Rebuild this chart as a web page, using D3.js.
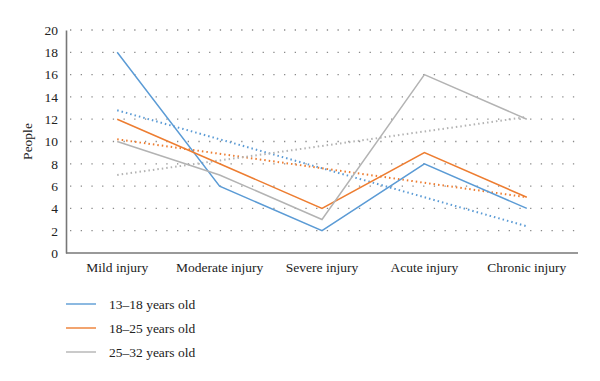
<!DOCTYPE html>
<head>
<meta charset="utf-8">
<script src="https://d3js.org/d3.v7.min.js"></script>
<style>
  body { margin: 0; background: #fff; }
</style>
</head>
<body>
<svg id="chart" width="600" height="381"></svg>
<script>
// chart values
const categories = ['Mild injury', 'Moderate injury', 'Severe injury', 'Acute injury', 'Chronic injury'];
const seriesNames = ['13\u201318 years old', '18\u201325 years old', '25\u201332 years old'];
const teen = [18, 6, 2, 8, 4];
const young = [12, 8, 4, 9, 5];
const adult = [10, 7, 3, 16, 12];
// dotted trend lines, start and end values
const teenTrend = [12.8, 2.4];
const youngTrend = [10.2, 5.0];
const adultTrend = [7.0, 12.2];
const yTicks = [0, 2, 4, 6, 8, 10, 12, 14, 16, 18, 20];

const colors = ['#5b9bd5', '#ed7d31', '#b3b3b3'];
const series = [teen, young, adult];
const trends = [teenTrend, youngTrend, adultTrend];
const font = 'Liberation Serif';

const svg = d3.select('#chart');
const mLeft = 66, mRight = 578, mTop = 30, mBottom = 253;

const x = d3.scaleBand().domain(categories).range([mLeft, mRight]);
const y = d3.scaleLinear().domain([0, 20]).range([mBottom, mTop]);
const cx = d => x(d) + x.bandwidth() / 2;

// dotted gridlines
svg.append('g')
  .selectAll('line')
  .data(yTicks.filter(t => t > 0))
  .enter()
  .append('line')
    .attr('x1', mLeft + 4)
    .attr('x2', mRight)
    .attr('y1', d => y(d))
    .attr('y2', d => y(d))
    .style('stroke', '#8a8a8a')
    .style('stroke-width', 1.3)
    .style('stroke-dasharray', '1.3,9.4');

// axes
let ya = svg.append('g')
  .attr('transform', `translate(${mLeft},0)`)
  .call(d3.axisLeft(y).tickValues(yTicks).tickSize(0).tickPadding(8))
  .attr('font-family', font)
  .attr('font-size', 13.5);
ya.select('.domain').style('stroke', '#777').style('stroke-width', 1.6);
ya.selectAll('text').attr('fill', '#222');

let xa = svg.append('g')
  .attr('transform', `translate(0,${mBottom})`)
  .call(d3.axisBottom(x).tickSize(0).tickPadding(9))
  .attr('font-family', font)
  .attr('font-size', 13.5);
xa.select('.domain').attr('d', `M${mLeft},0H${mRight}`).style('stroke', '#777').style('stroke-width', 1.6);
xa.selectAll('text').attr('fill', '#222');

svg.append('text')
  .attr('transform', `translate(32,${(mTop + mBottom) / 2}) rotate(-90)`)
  .attr('text-anchor', 'middle')
  .attr('font-family', font)
  .attr('font-size', 13.5)
  .attr('fill', '#222')
  .text('People');

// trend lines
trends.forEach(function(t, i) {
  svg.append('line')
    .attr('x1', cx(categories[0]))
    .attr('x2', cx(categories[categories.length - 1]))
    .attr('y1', y(t[0]))
    .attr('y2', y(t[1]))
    .style('stroke', colors[i])
    .style('stroke-width', 2)
    .style('stroke-dasharray', '1.5,3');
});

// series lines
let line = d3.line()
  .x((d, i) => cx(categories[i]))
  .y(d => y(d));

series.forEach(function(s, i) {
  svg.append('path')
    .datum(s)
    .attr('d', line)
    .style('fill', 'none')
    .style('stroke', colors[i])
    .style('stroke-width', 1.5);
});

// legend
let lg = svg.append('g')
  .attr('font-family', font)
  .attr('font-size', 13.5)
  .attr('fill', '#222');
seriesNames.forEach(function(name, i) {
  let ly = 304 + i * 24;
  lg.append('line')
    .attr('x1', 66).attr('x2', 96)
    .attr('y1', ly).attr('y2', ly)
    .style('stroke', colors[i])
    .style('stroke-width', 1.4);
  lg.append('text')
    .attr('x', 109)
    .attr('y', ly + 4.5)
    .text(name);
});
</script>
</body>
